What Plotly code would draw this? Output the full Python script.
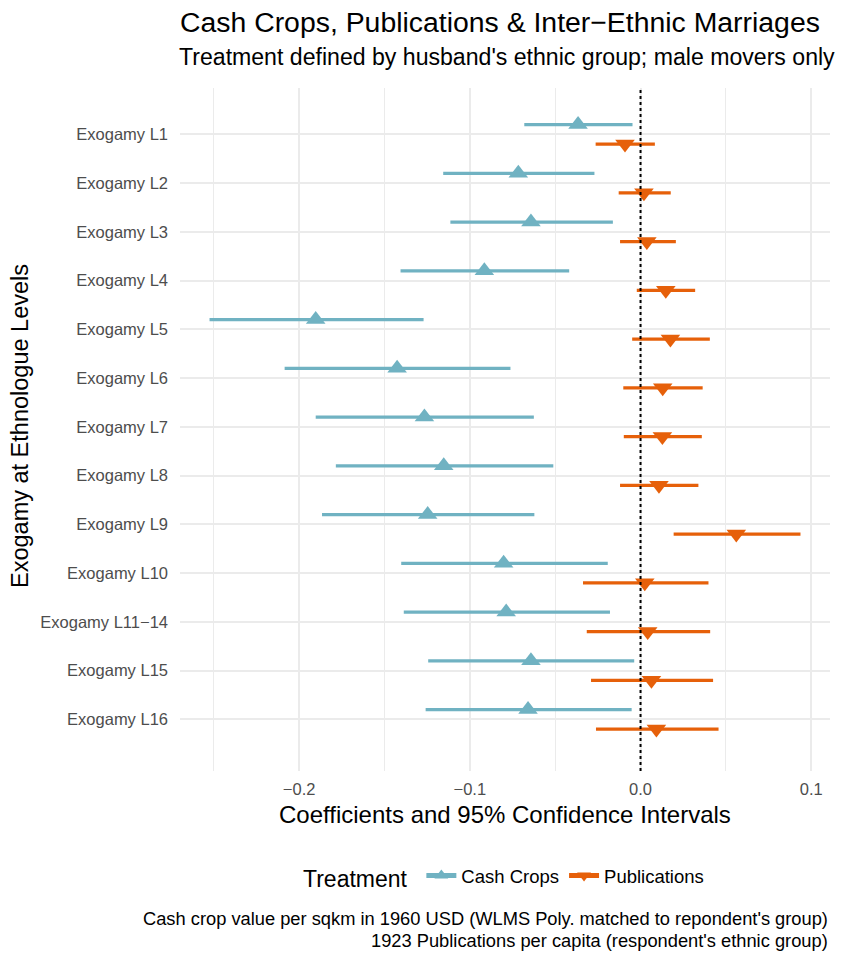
import plotly.graph_objects as go

categories = ["Exogamy L1", "Exogamy L2", "Exogamy L3", "Exogamy L4", "Exogamy L5",
              "Exogamy L6", "Exogamy L7", "Exogamy L8", "Exogamy L9", "Exogamy L10",
              "Exogamy L11\u221214", "Exogamy L15", "Exogamy L16"]

cash_est = [-0.0366, -0.0716, -0.0642, -0.0915, -0.1903, -0.1426, -0.1266, -0.1153,
            -0.1247, -0.0802, -0.0787, -0.0642, -0.0659]
cash_lo = [-0.0681, -0.1156, -0.1114, -0.1406, -0.2525, -0.2085, -0.1903, -0.1785,
           -0.1866, -0.1402, -0.1387, -0.1244, -0.1259]
cash_hi = [-0.0047, -0.0270, -0.0162, -0.0418, -0.1271, -0.0762, -0.0625, -0.0511,
           -0.0622, -0.0192, -0.0179, -0.0037, -0.0052]

pub_est = [-0.0091, 0.0020, 0.0037, 0.0148, 0.0175, 0.0130, 0.0128, 0.0108,
           0.0561, 0.0025, 0.0042, 0.0064, 0.0093]
pub_lo = [-0.0263, -0.0128, -0.0120, -0.0022, -0.0049, -0.0101, -0.0098, -0.0120,
          0.0194, -0.0337, -0.0315, -0.0290, -0.0261]
pub_hi = [0.0084, 0.0177, 0.0207, 0.0320, 0.0406, 0.0364, 0.0359, 0.0339,
          0.0937, 0.0398, 0.0408, 0.0425, 0.0457]

x_ticks = [-0.2, -0.1, 0.0, 0.1]

CASH_COLOR = "#70B2C2"
PUB_COLOR = "#E6600A"
FONT = "Liberation Sans, Arial, sans-serif"
DODGE = 0.2
MS = 17

# body margin is removed in the page (post_script), so figure coords = page coords
W, H = 845, 956
L, R, T, B = 180, 15, 88, 185
plot_h = H - T - B
plot_w = W - L - R


def py(page_y):
    return (H - B - page_y) / plot_h


def px(page_x):
    return (page_x - L) / plot_w


def build(est, lo, hi, offset):
    xs, ys, sizes = [], [], []
    for i, (e, l, h) in enumerate(zip(est, lo, hi)):
        yy = i + offset
        xs += [l, e, h, None]
        ys += [yy, yy, yy, None]
        sizes += [0, MS, 0, 0]
    return xs, ys, sizes


fig = go.Figure()

cx, cy, cs = build(cash_est, cash_lo, cash_hi, -DODGE)
fig.add_trace(go.Scatter(
    x=cx, y=cy, mode="lines+markers", name="Cash Crops",
    line=dict(color=CASH_COLOR, width=3.2),
    marker=dict(symbol="triangle-up", size=cs, color=CASH_COLOR, opacity=1,
                line=dict(width=0)),
    connectgaps=False,
))
bx, by, bs = build(pub_est, pub_lo, pub_hi, DODGE)
fig.add_trace(go.Scatter(
    x=bx, y=by, mode="lines+markers", name="Publications",
    line=dict(color=PUB_COLOR, width=3.2),
    marker=dict(symbol="triangle-down", size=bs, color=PUB_COLOR, opacity=1,
                line=dict(width=0)),
    connectgaps=False,
))

fig.add_shape(type="line", xref="x", yref="paper", x0=0, x1=0, y0=0, y1=1,
              line=dict(color="black", width=2, dash="dot"), layer="above")

fig.update_layout(
    width=W, height=H,
    margin=dict(l=L, r=R, t=T, b=B),
    plot_bgcolor="white", paper_bgcolor="white",
    font=dict(family=FONT, color="black"),
    showlegend=True,
    legend=dict(
        orientation="h", x=0.5, xanchor="center", y=py(877), yanchor="middle",
        title=dict(text="Treatment ", font=dict(size=23), side="left"),
        font=dict(size=18.5), itemsizing="constant", itemwidth=30,
    ),
    title=dict(text="Cash Crops, Publications & Inter\u2212Ethnic Marriages",
               x=L / W, xanchor="left", xref="container",
               y=1 - 22 / H, yanchor="middle", yref="container",
               font=dict(size=28.4, color="black")),
    xaxis=dict(
        range=[-0.2698, 0.111], tickvals=x_ticks, tickformat=".1f",
        showgrid=True, gridcolor="#EBEBEB", gridwidth=2, zeroline=False,
        showline=False, ticks="", ticklabelstandoff=6,
        tickfont=dict(size=16.5, color="#4D4D4D"),
        minor=dict(tickvals=[-0.25, -0.15, -0.05, 0.05], showgrid=True,
                   gridcolor="#EBEBEB", gridwidth=1),
    ),
    yaxis=dict(
        range=[len(categories) - 1 + 1.06, -0.95],
        tickvals=list(range(len(categories))), ticktext=categories,
        showgrid=True, gridcolor="#EBEBEB", gridwidth=2, zeroline=False,
        showline=False, ticks="", ticklabelstandoff=11,
        tickfont=dict(size=16.5, color="#4D4D4D"),
    ),
    annotations=[
        dict(text="Treatment defined by husband's ethnic group; male movers only",
             xref="paper", yref="paper", x=px(177), y=py(57), xanchor="left", yanchor="middle",
             showarrow=False, font=dict(size=23.1, color="black")),
        dict(text="Coefficients and 95% Confidence Intervals",
             xref="paper", yref="paper", x=0.5, y=py(814), xanchor="center", yanchor="middle",
             showarrow=False, font=dict(size=24, color="black")),
        dict(text="Exogamy at Ethnologue Levels", textangle=-90,
             xref="paper", yref="paper", x=px(20), y=py(426),
             xanchor="center", yanchor="middle", borderpad=0,
             showarrow=False, font=dict(size=23.5, color="black")),
        dict(text="Cash crop value per sqkm in 1960 USD (WLMS Poly. matched to repondent's group)",
             xref="paper", yref="paper", x=1, y=py(918), xanchor="right", yanchor="middle",
             showarrow=False, font=dict(size=18.3, color="black")),
        dict(text="1923 Publications per capita (respondent's ethnic group)",
             xref="paper", yref="paper", x=1, y=py(940), xanchor="right", yanchor="middle",
             showarrow=False, font=dict(size=18.3, color="black")),
    ],
)

fig.write_html("out.html", config={"displayModeBar": False},
               post_script="document.body.style.margin='0';")
